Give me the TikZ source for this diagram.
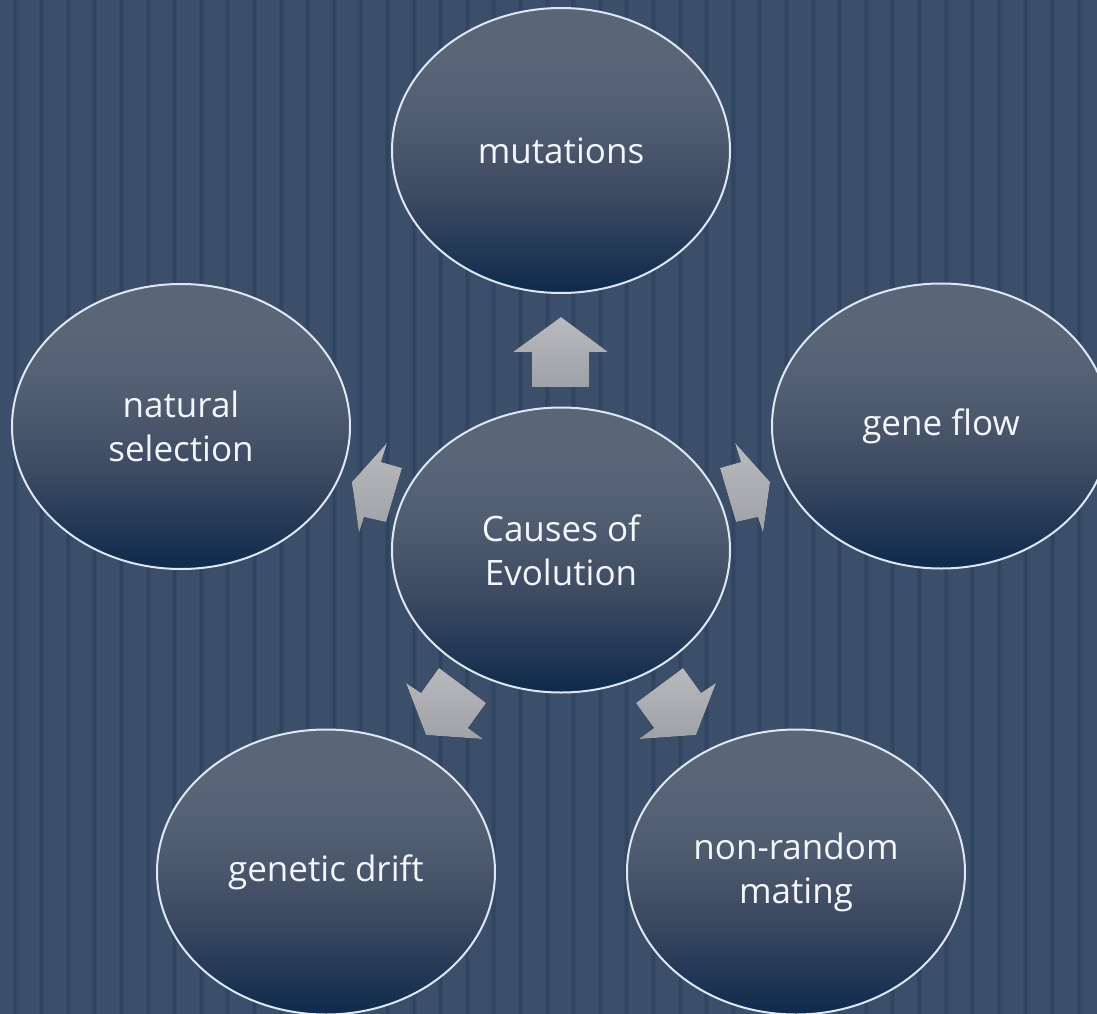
\documentclass[tikz,border=0pt]{standalone}
\usepackage{fontspec}
\setmainfont{Open Sans}
\usetikzlibrary{shapes.geometric}
\definecolor{bgbase}{RGB}{59,79,107}
\definecolor{stripeA}{RGB}{53,73,101}
\definecolor{stripeB}{RGB}{46,68,97}
\definecolor{elltop}{RGB}{90,101,120}
\definecolor{ellupper}{RGB}{80,92,112}
\definecolor{ellmid}{RGB}{60,74,98}
\definecolor{ellbot}{RGB}{14,42,76}
\definecolor{ellborder}{RGB}{222,232,244}
\definecolor{arrtop}{RGB}{184,186,190}
\definecolor{arrbot}{RGB}{158,161,166}
\definecolor{txt}{RGB}{242,245,249}
\pgfdeclareverticalshading{bubbleshade}{100bp}{color(0bp)=(ellbot); color(25bp)=(ellbot); color(42bp)=(ellmid); color(55bp)=(ellupper); color(66bp)=(elltop); color(100bp)=(elltop)}
\tikzset{
  bubble/.style={ellipse, minimum width=338pt, minimum height=285pt, inner sep=0pt,
    draw=ellborder, line width=2pt, shading=bubbleshade,
    text=txt, align=center, font=\fontsize{35}{44}\selectfont},
  blockarrow/.style={top color=arrtop, bottom color=arrbot, draw=none}
}
\begin{document}
\begin{tikzpicture}[x=1pt,y=-1pt]
\useasboundingbox (0,0) rectangle (1097,1014);
\clip (0,0) rectangle (1097,1014);
\fill[bgbase] (0,0) rectangle (1097,1014);
\foreach \k in {0,...,41}{
  \fill[stripeA] ({15+26.6*\k-2.5},0) rectangle ++(5,1014);
  \fill[stripeB] ({15+26.6*\k-1.25},0) rectangle ++(2.5,1014);
}
% outer bubbles
\node[bubble] (mut) at (561,150.5) {mutations};
\node[bubble] (gf) at (941,426) {gene flow};
\node[bubble] (ns) at (181,426.5) {natural\\selection};
\node[bubble] (gd) at (326,872) {genetic drift};
\node[bubble] (nr) at (796,872) {non-random\\mating};
\node[bubble] (c) at (561,550) {Causes of\\Evolution};
% block arrows
\fill[blockarrow] (561,317) -- (608,352) -- (589,352) -- (589,387) -- (532,387) -- (532,352) -- (513,352) -- cycle;
\fill[blockarrow] (770,482) -- (735,443) -- (741,462) -- (720,468) -- (736,522) -- (758,517) -- (763,533) -- cycle;
\fill[blockarrow] (352,482) -- (387,443) -- (381,462) -- (402,468) -- (386,522) -- (364,517) -- (359,533) -- cycle;
\fill[blockarrow] (426,735) -- (406,683) -- (421,693) -- (439,668) -- (486,703) -- (468,728) -- (483,739) -- cycle;
\fill[blockarrow] (696,735) -- (716,683) -- (701,693) -- (683,668) -- (636,703) -- (654,728) -- (639,739) -- cycle;
\end{tikzpicture}
\end{document}
